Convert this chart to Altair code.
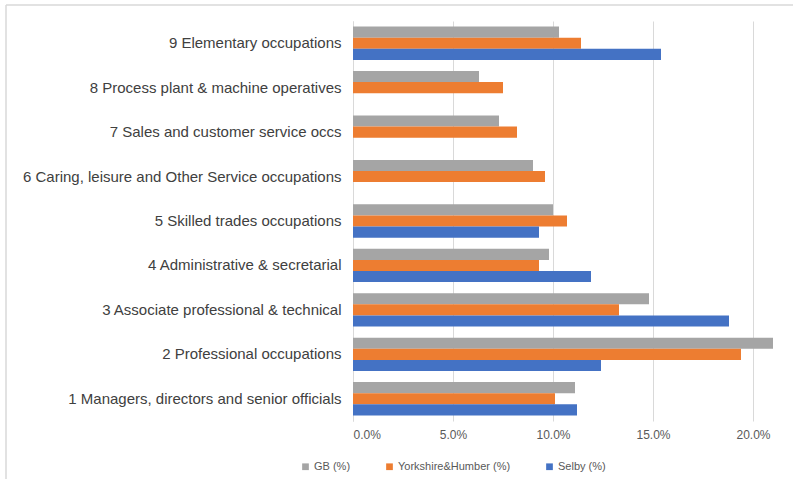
import altair as alt
import pandas as pd

occupations = [
    "1 Managers, directors and senior officials",
    "2 Professional occupations",
    "3 Associate professional & technical",
    "4 Administrative & secretarial",
    "5 Skilled trades occupations",
    "6 Caring, leisure and Other Service occupations",
    "7 Sales and customer service occs",
    "8 Process plant & machine operatives",
    "9 Elementary occupations",
]
series = ["GB (%)", "Yorkshire&Humber (%)", "Selby (%)"]
gb = [11.1, 21.0, 14.8, 9.8, 10.0, 9.0, 7.3, 6.3, 10.3]
yh = [10.1, 19.4, 13.3, 9.3, 10.7, 9.6, 8.2, 7.5, 11.4]
selby = [11.2, 12.4, 18.8, 11.9, 9.3, None, None, None, 15.4]
colors = ["#A5A5A5", "#ED7D31", "#4472C4"]

rows = []
for vals, s in zip([gb, yh, selby], series):
    for occ, v in zip(occupations, vals):
        if v is not None:
            rows.append({"occ": occ, "series": s, "value": v / 100})
df = pd.DataFrame(rows)

bars = alt.Chart(df).mark_bar().encode(
    y=alt.Y("occ:N", sort=list(reversed(occupations)), title=None,
            scale=alt.Scale(paddingInner=0.25, paddingOuter=0.125),
            axis=alt.Axis(labelLimit=400, labelFontSize=15, labelColor="#404040",
                          labelPadding=12, ticks=False, domainColor="#D9D9D9",
                          labelFont="Liberation Sans")),
    yOffset=alt.YOffset("series:N", sort=series),
    x=alt.X("value:Q", title=None,
            scale=alt.Scale(domain=[0, 0.211], nice=False),
            axis=alt.Axis(format=".1%", values=[0, 0.05, 0.1, 0.15, 0.2],
                          labelFontSize=12, labelColor="#595959", ticks=False,
                          domain=False, gridColor="#D9D9D9", labelPadding=8,
                          labelFont="Liberation Sans")),
    color=alt.Color("series:N", sort=series,
                    scale=alt.Scale(domain=series, range=colors),
                    legend=alt.Legend(title=None, orient="none", direction="horizontal",
                                      legendX=-53, legendY=440, symbolType="square",
                                      symbolSize=45, labelFontSize=11, labelColor="#595959",
                                      columnPadding=33, labelOffset=3,
                                      labelFont="Liberation Sans",
                                      symbolStrokeWidth=0)),
)

frame_src = alt.Chart(pd.DataFrame({"a": [0]}))
top_border = frame_src.mark_rule(color="#D9D9D9", strokeWidth=1.5).encode(
    x=alt.value(-347), x2=alt.value(445), y=alt.value(-16))
left_border = frame_src.mark_rule(color="#D9D9D9", strokeWidth=1.5).encode(
    x=alt.value(-347), y=alt.value(-16), y2=alt.value(460))

chart = alt.layer(bars, top_border, left_border).properties(
    width=422, height=400,
    autosize=alt.AutoSizeParams(type="none"),
    padding={"left": 353, "top": 21, "right": 18, "bottom": 58},
).configure_view(stroke=None)

chart.save("out.html", embed_options={"renderer": "svg", "actions": False})
